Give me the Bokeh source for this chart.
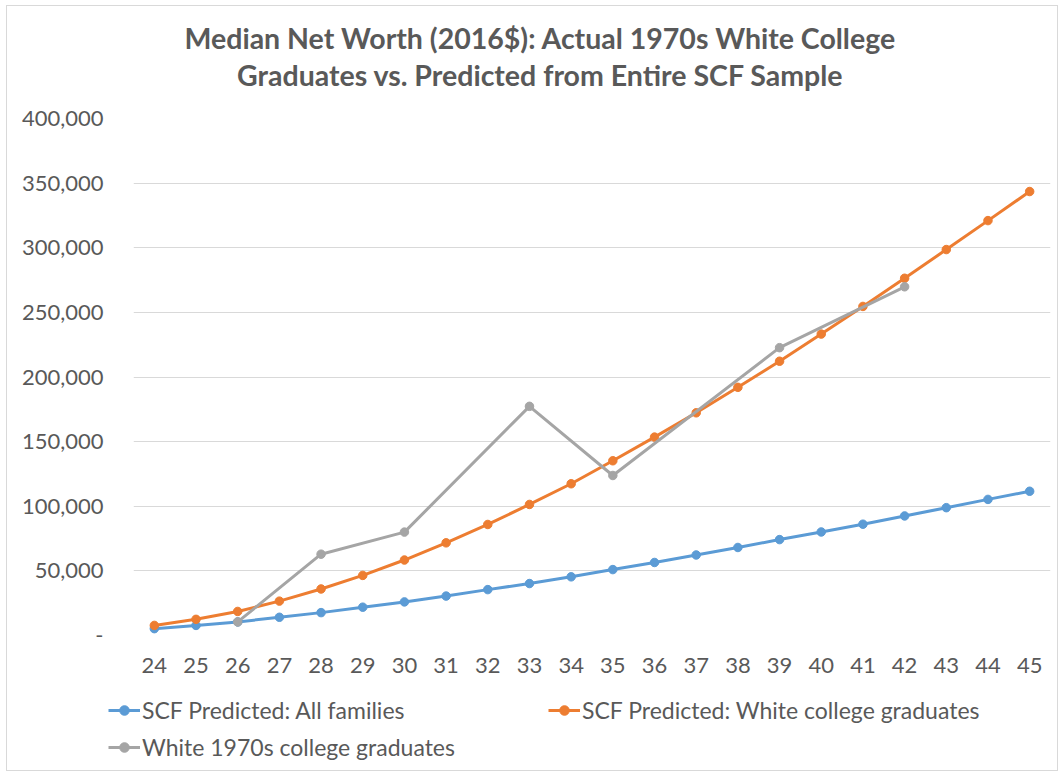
from bokeh.plotting import figure
from bokeh.layouts import column, row
from bokeh.models import Range1d, FixedTicker, Legend, LegendItem, Label
from bokeh.embed import file_html
from bokeh.resources import INLINE

# ---- data ----
ages = [24, 25, 26, 27, 28, 29, 30, 31, 32, 33, 34, 35, 36, 37, 38, 39, 40, 41, 42, 43, 44, 45]
scf_all = [5300, 7800, 10500, 14100, 17700, 21900, 26000, 30500, 35500, 40200, 45400,
           51000, 56500, 62300, 68100, 74200, 80100, 86100, 92500, 98900, 105300, 111600]
scf_white_grad = [7800, 12500, 18600, 26600, 36000, 46500, 58400, 71700, 85900, 101400, 117400,
                  135200, 153500, 172300, 192000, 212200, 233200, 254600, 276400, 298600, 321000, 343500]
white70_ages = [26, 28, 30, 33, 35, 39, 42]
white70_vals = [10500, 62900, 80000, 177300, 123800, 222700, 269800]

y_ticks = [0, 50000, 100000, 150000, 200000, 250000, 300000, 350000, 400000]
y_tick_labels = ["-", "50,000", "100,000", "150,000", "200,000", "250,000", "300,000", "350,000", "400,000"]
x_tick_labels = [str(a) for a in ages]

title_lines = ["Median Net Worth (2016$): Actual 1970s White College",
               "Graduates vs. Predicted from Entire SCF Sample"]
series_names = ["SCF Predicted: All families", "SCF Predicted: White college graduates",
                "White 1970s college graduates"]
colors = ["#5B9BD5", "#ED7D31", "#A5A5A5"]

FONT = "Lato"
TXT = "#595959"
W = 1050


def blank_fig(h):
    f = figure(width=W, height=h, output_backend="svg", toolbar_location=None,
               x_range=Range1d(0, 1), y_range=Range1d(0, 1),
               x_axis_location=None, y_axis_location=None, min_border=0)
    f.grid.visible = False
    f.outline_line_color = None
    return f


# ---- title strip ----
pt = blank_fig(90)
for txt, yy in zip(title_lines, [59, 22]):
    pt.add_layout(Label(x=533, y=yy, x_units="screen", y_units="screen", text=txt,
                        text_align="center", text_baseline="middle", text_font=FONT,
                        text_font_style="bold", text_font_size="28.5px", text_color=TXT))

# ---- main chart ----
p = figure(width=W, height=594, output_backend="svg", toolbar_location=None,
           x_range=Range1d(23.5, 45.5), y_range=Range1d(0, 400000),
           min_border_left=126, min_border_right=7, min_border_top=22, min_border_bottom=55)
p.outline_line_color = None
p.xgrid.grid_line_color = None
p.ygrid.grid_line_color = "#D9D9D9"
p.ygrid.grid_line_width = 1

for ax in (p.xaxis[0], p.yaxis[0]):
    ax.axis_line_color = None
    ax.major_tick_line_color = None
    ax.minor_tick_line_color = None
    ax.major_tick_out = 0
    ax.major_tick_in = 0
    ax.major_label_text_font = FONT
    ax.major_label_text_font_size = "22px"
    ax.major_label_text_color = TXT

p.yaxis.ticker = FixedTicker(ticks=y_ticks)
p.yaxis.major_label_overrides = {t: l for t, l in zip(y_ticks, y_tick_labels)}
p.yaxis.major_label_standoff = 30
p.xaxis.ticker = FixedTicker(ticks=ages)
p.xaxis.major_label_overrides = {a: l for a, l in zip(ages, x_tick_labels)}
p.xaxis.major_label_standoff = 22

series = [(ages, scf_all), (ages, scf_white_grad), (white70_ages, white70_vals)]
for (xs, ys), c in zip(series, colors):
    p.line(xs, ys, line_color=c, line_width=3)
    p.scatter(xs, ys, size=8.5, fill_color=c, line_color=c)

# ---- legend strip (its renderers lie outside its own view; only the legend shows) ----
pl = blank_fig(80)
items = []
for (xs, ys), name, c in zip(series, series_names, colors):
    l = pl.line(xs, ys, line_color=c, line_width=3)
    s = pl.scatter(xs, ys, size=8.5, fill_color=c, line_color=c)
    items.append(LegendItem(label=name, renderers=[l, s]))

# column-major fill: col 1 = items 0 and 2, col 2 = item 1
lg = Legend(items=[items[0], items[2], items[1]], location=(101, 9), ncols=2)
lg.label_text_font = FONT
lg.label_text_font_size = "23px"
lg.label_text_color = TXT
lg.border_line_color = None
lg.background_fill_alpha = 0
lg.padding = 0
lg.margin = 0
lg.spacing = 9
lg.glyph_width = 32
lg.glyph_height = 24
lg.label_height = 24
lg.label_width = 397
lg.label_standoff = 2
pl.add_layout(lg)

layout = column(row(pt), p, row(pl), spacing=0,
                styles={"border": "1px solid #D9D9D9", "margin-left": "6px", "margin-top": "5px"})

open("out.html", "w").write(file_html(layout, INLINE))
